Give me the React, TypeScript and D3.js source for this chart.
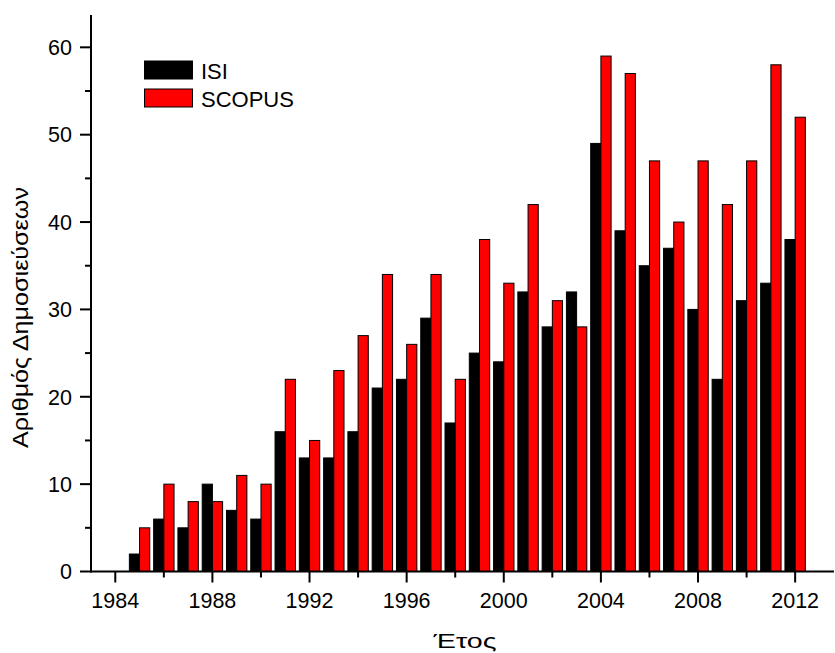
import React from "react";
import * as d3 from "d3";

const years = [1985,1986,1987,1988,1989,1990,1991,1992,1993,1994,1995,1996,1997,1998,1999,2000,2001,2002,2003,2004,2005,2006,2007,2008,2009,2010,2011,2012];
const isi = [2,6,5,10,7,6,16,13,13,16,21,22,29,17,25,24,32,28,32,49,39,35,37,30,22,31,33,38];
const scopus = [5,10,8,8,11,10,22,15,23,27,34,26,34,22,38,33,42,31,28,59,57,47,40,47,42,47,58,52];
const xMajorTicks = [1984,1988,1992,1996,2000,2004,2008,2012];
const xMinorTicks = [1986,1990,1994,1998,2002,2006,2010];
const yMajorTicks = [0,10,20,30,40,50,60];
const yMinorTicks = [5,15,25,35,45,55];
const seriesNames = ["ISI", "SCOPUS"];
const seriesColors = ["#000000", "#ff0000"];

const W = 835, H = 653;
const FONT = "'Liberation Sans', Arial, sans-serif";

export default function App() {
  const x = d3.scaleLinear().domain([1983, 2013.6]).range([91, 834]);
  const y = d3.scaleLinear().domain([0, 63.7]).range([571.5, 15]);
  const bw = 0.42;
  const y0 = y(0);

  return (
    <svg width={W} height={H} style={{ position: "absolute", left: 0, top: 0, background: "#fff" }} fontFamily={FONT}>
      {years.map((yr, i) => (
        <g key={yr}>
          <rect x={x(yr - bw)} y={y(isi[i])} width={x(yr) - x(yr - bw)} height={y0 - y(isi[i])}
            fill={seriesColors[0]} stroke="#000" strokeWidth={1} />
          <rect x={x(yr)} y={y(scopus[i])} width={x(yr + bw) - x(yr)} height={y0 - y(scopus[i])}
            fill={seriesColors[1]} stroke="#000" strokeWidth={1} />
        </g>
      ))}
      <line x1={x.range()[0]} x2={x.range()[1]} y1={y0} y2={y0} stroke="#000" strokeWidth={2} />
      <line x1={x.range()[0]} x2={x.range()[0]} y1={y.range()[0] + 1} y2={y.range()[1]} stroke="#000" strokeWidth={2} />
      {xMajorTicks.map(t => (
        <g key={"xm" + t}>
          <line x1={x(t)} x2={x(t)} y1={y0} y2={y0 + 11} stroke="#000" strokeWidth={2} />
          <text x={x(t)} y={608} textAnchor="middle" fontSize={21.5}>{t}</text>
        </g>
      ))}
      {xMinorTicks.map(t => (
        <line key={"xn" + t} x1={x(t)} x2={x(t)} y1={y0} y2={y0 + 6} stroke="#000" strokeWidth={2} />
      ))}
      {yMajorTicks.map(t => (
        <g key={"ym" + t}>
          <line x1={x.range()[0] - 11} x2={x.range()[0]} y1={y(t)} y2={y(t)} stroke="#000" strokeWidth={2} />
          <text x={72} y={y(t)} dy="0.36em" textAnchor="end" fontSize={21.5}>{t}</text>
        </g>
      ))}
      {yMinorTicks.map(t => (
        <line key={"yn" + t} x1={x.range()[0] - 6} x2={x.range()[0]} y1={y(t)} y2={y(t)} stroke="#000" strokeWidth={2} />
      ))}
      <text x={465} y={648} textAnchor="middle" fontSize={21} textLength={63} lengthAdjust="spacingAndGlyphs">Έτος</text>
      <text transform="translate(28,317.5) rotate(-90)" textAnchor="middle" fontSize={21.5} textLength={261} lengthAdjust="spacingAndGlyphs">Αριθμός Δημοσιεύσεων</text>
      {seriesNames.map((n, i) => (
        <g key={n}>
          <rect x={144.5} y={61 + i * 28} width={48} height={18} fill={seriesColors[i]} stroke="#000" strokeWidth={1} />
          <text x={201} y={78.5 + i * 28} fontSize={22}>{n}</text>
        </g>
      ))}
    </svg>
  );
}
